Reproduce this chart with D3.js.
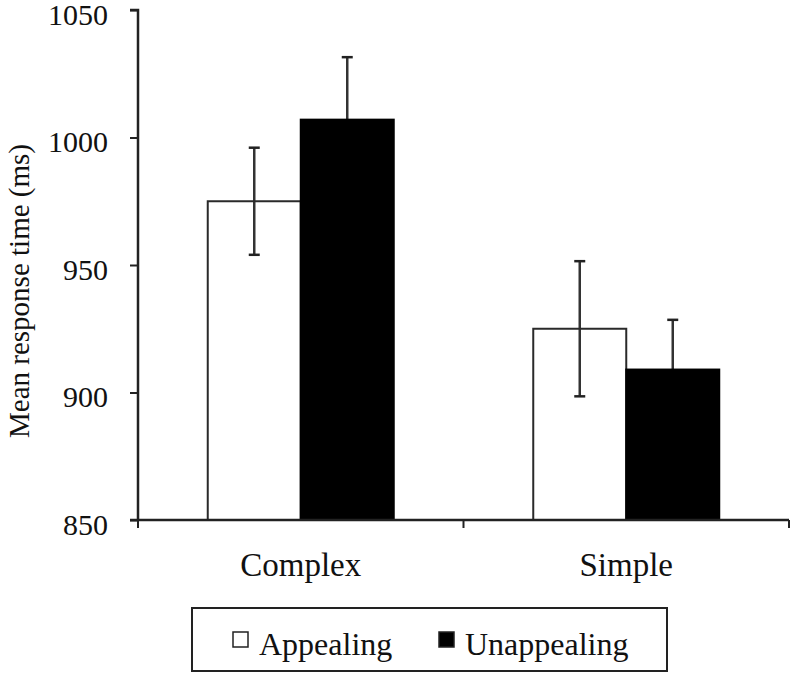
<!DOCTYPE html>
<html>
<head>
<meta charset="utf-8">
<script src="https://cdn.jsdelivr.net/npm/d3@7"></script>
<style>
  html, body { margin: 0; padding: 0; background: #fff; }
  svg text { font-family: "Liberation Serif", "Times New Roman", serif; fill: #111; }
</style>
</head>
<body>
<svg id="chart" width="792" height="673"></svg>
<script>
const categories = ["Complex", "Simple"];
const seriesNames = ["Appealing", "Unappealing"];
const appealingMeans = [975, 925];
const unappealingMeans = [1007, 909];
const appealingErrors = [21, 26.5];
const unappealingErrors = [24.5, 19.5];
const yTicks = [850, 900, 950, 1000, 1050];
const yLabel = "Mean response time (ms)";

const svg = d3.select("#chart");
const margin = { left: 138, right: 789, top: 10, bottom: 520 };

const x = d3.scaleBand().domain(categories).range([margin.left, margin.right]).padding(0);
const xs = d3.scaleBand().domain(seriesNames).range([0, x.bandwidth()]).paddingInner(0).paddingOuter(0.75);
const y = d3.scaleLinear().domain([850, 1050]).range([margin.bottom, margin.top]);

const data = [];
categories.forEach((c, i) => {
  data.push({ cat: c, series: "Appealing", v: appealingMeans[i], e: appealingErrors[i] });
  data.push({ cat: c, series: "Unappealing", v: unappealingMeans[i], e: unappealingErrors[i] });
});

const fillOf = s => s === "Appealing" ? "none" : "#000";
const strokeOf = s => s === "Appealing" ? "#2a2a2a" : "#000";

// error bars first (black bars hide their lower halves)
const eb = svg.append("g");
data.forEach(d => {
  const cx = x(d.cat) + xs(d.series) + xs.bandwidth() / 2;
  eb.append("line").attr("x1", cx).attr("x2", cx)
    .attr("y1", y(d.v + d.e)).attr("y2", y(d.v - d.e))
    .attr("stroke", "#333").attr("stroke-width", 2.5);
  [d.v + d.e, d.v - d.e].forEach(val => {
    eb.append("line").attr("x1", cx - 5.5).attr("x2", cx + 5.5)
      .attr("y1", y(val)).attr("y2", y(val))
      .attr("stroke", "#222").attr("stroke-width", 2.5);
  });
});

// bars
svg.append("g").selectAll("rect").data(data).join("rect")
  .attr("x", d => x(d.cat) + xs(d.series))
  .attr("width", xs.bandwidth())
  .attr("y", d => y(d.v))
  .attr("height", d => y(850) - y(d.v))
  .attr("fill", d => fillOf(d.series))
  .attr("stroke", d => strokeOf(d.series))
  .attr("stroke-width", 2);

// y axis
const yAxis = d3.axisLeft(y).tickValues(yTicks).tickSize(8).tickPadding(22).tickFormat(d3.format("d"));
const yg = svg.append("g").attr("transform", `translate(${margin.left},0)`).call(yAxis);
yg.select(".domain").attr("stroke", "#222").attr("stroke-width", 2.5).attr("d", `M-8,${y(1050)}H0V${y(850)}`);
yg.selectAll(".tick line").attr("stroke", "#222").attr("stroke-width", 2);
yg.selectAll(".tick text").style("font-size", "30px").style("font-family", "Liberation Serif, serif").attr("fill", "#111").attr("dy", "0.47em");

// x axis
const xg = svg.append("g");
xg.append("line").attr("x1", margin.left - 8).attr("x2", margin.right)
  .attr("y1", y(850)).attr("y2", y(850)).attr("stroke", "#222").attr("stroke-width", 2.5);
const bounds = [x(categories[0]), x(categories[1]), x(categories[1]) + x.bandwidth()];
bounds.forEach(b => {
  xg.append("line").attr("x1", b).attr("x2", b).attr("y1", y(850)).attr("y2", y(850) + 8)
    .attr("stroke", "#222").attr("stroke-width", 2);
});
categories.forEach(c => {
  xg.append("text").attr("x", x(c) + x.bandwidth() / 2).attr("y", 576)
    .attr("text-anchor", "middle").style("font-size", "33px").text(c);
});

// y title
svg.append("text").attr("transform", "translate(29,291) rotate(-90)")
  .attr("text-anchor", "middle").style("font-size", "29px").text(yLabel);

// legend
const lg = svg.append("g");
lg.append("rect").attr("x", 192).attr("y", 608).attr("width", 475).attr("height", 63)
  .attr("fill", "#fff").attr("stroke", "#222").attr("stroke-width", 2);
const legendX = [233, 439];
seriesNames.forEach((s, i) => {
  lg.append("rect").attr("x", legendX[i]).attr("y", 632).attr("width", 15).attr("height", 15)
    .attr("fill", s === "Appealing" ? "#fff" : "#000").attr("stroke", "#222").attr("stroke-width", 1.5);
  lg.append("text").attr("x", legendX[i] + 26).attr("y", 655).style("font-size", "32px").text(s);
});
</script>
</body>
</html>
